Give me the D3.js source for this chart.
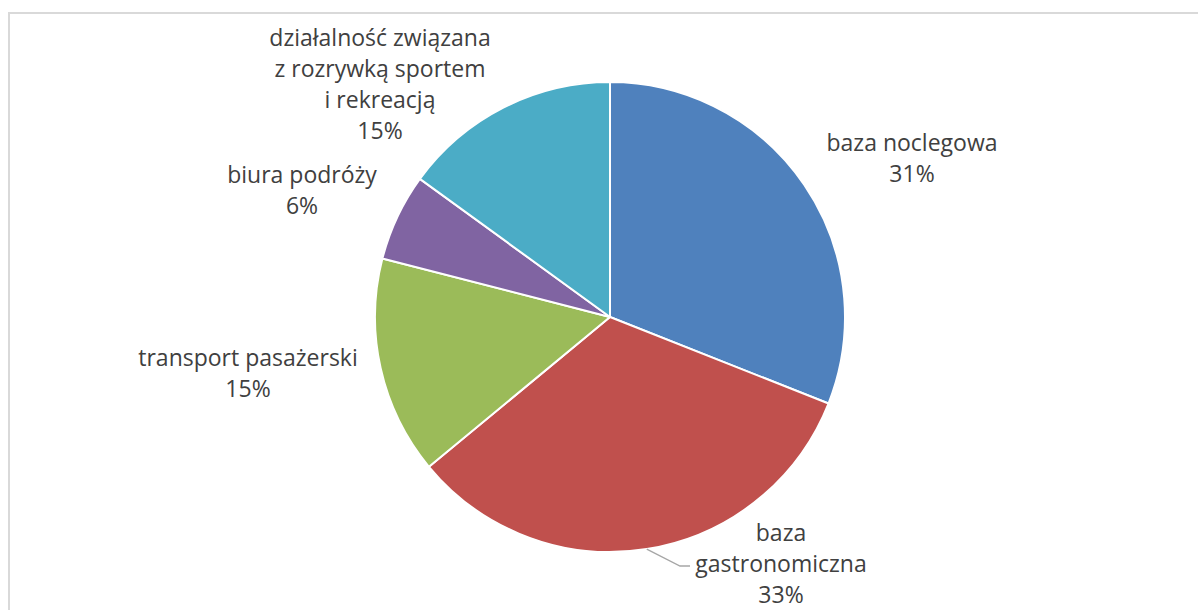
<!DOCTYPE html>
<html>
<head>
<meta charset="utf-8">
<script src="https://cdn.jsdelivr.net/npm/d3@7"></script>
<style>
  body { margin: 0; background: #fff; }
  svg { display: block; }
</style>
</head>
<body>
<div id="chart"></div>
<script>
// segment names (lines of each label), values in %, colors
const categories = [
  ["baza noclegowa"],
  ["baza", "gastronomiczna"],
  ["transport pasażerski"],
  ["biura podróży"],
  ["działalność związana", "z rozrywką sportem", "i rekreacją"]
];
const values = [31, 33, 15, 6, 15];
const colors = ["#4F81BD", "#C0504D", "#9BBB59", "#8064A2", "#4BACC6"];

const width = 1198, height = 610;
const cx = 610, cy = 317, radius = 235;
const lineH = 31;

// label centres, relative to pie centre (layout only)
const labelPos = [[302, -159], [171, 247], [-362, 56], [-308, -127], [-230, -233]];

const svg = d3.select("#chart").append("svg")
    .attr("width", width)
    .attr("height", height)
    .attr("font-family", "'Open Sans', sans-serif")
    .attr("font-size", 23);

// chart frame
svg.append("rect")
    .attr("x", 9).attr("y", 13)
    .attr("width", width + 20).attr("height", height + 20)
    .attr("fill", "#fff")
    .attr("stroke", "#d9d9d9")
    .attr("stroke-width", 2);

const pie = d3.pie().sort(null).value(d => d);
const arcs = pie(values);
const arc = d3.arc().innerRadius(0).outerRadius(radius);

const g = svg.append("g").attr("transform", `translate(${cx},${cy})`);

g.selectAll("path.slice")
  .data(arcs)
  .join("path")
    .attr("class", "slice")
    .attr("d", arc)
    .attr("fill", (d, i) => colors[i])
    .attr("stroke", "#fff")
    .attr("stroke-width", 2)
    .attr("stroke-linejoin", "round");

const mid = d => (d.startAngle + d.endAngle) / 2;
const pt = (a, r) => [Math.sin(a) * r, -Math.cos(a) * r];

const labels = g.selectAll("g.label")
  .data(arcs)
  .join("g")
    .attr("class", "label")
    .attr("transform", (d, i) => `translate(${labelPos[i][0]},${labelPos[i][1]})`);

labels.append("text")
    .attr("text-anchor", "middle")
    .attr("fill", "#404040")
    .each(function(d, i) {
      const lines = categories[i].concat([values[i] + "%"]);
      const t = d3.select(this);
      const y0 = -(lines.length - 1) * lineH / 2;
      lines.forEach((l, j) => {
        t.append("tspan")
          .attr("x", 0)
          .attr("y", y0 + j * lineH)
          .attr("dy", "0.35em")
          .text(l);
      });
    });

// leader line for baza gastronomiczna
{
  const d = arcs[1];
  const p0 = pt(mid(d), radius);
  const lp = labelPos[1];
  const xEnd = lp[0] - 91;
  g.append("polyline")
    .attr("points", [p0, [xEnd - 10, lp[1] + 2], [xEnd, lp[1] + 2]].map(p => p.join(",")).join(" "))
    .attr("fill", "none")
    .attr("stroke", "#a6a6a6")
    .attr("stroke-width", 1.3);
}
</script>
</body>
</html>
